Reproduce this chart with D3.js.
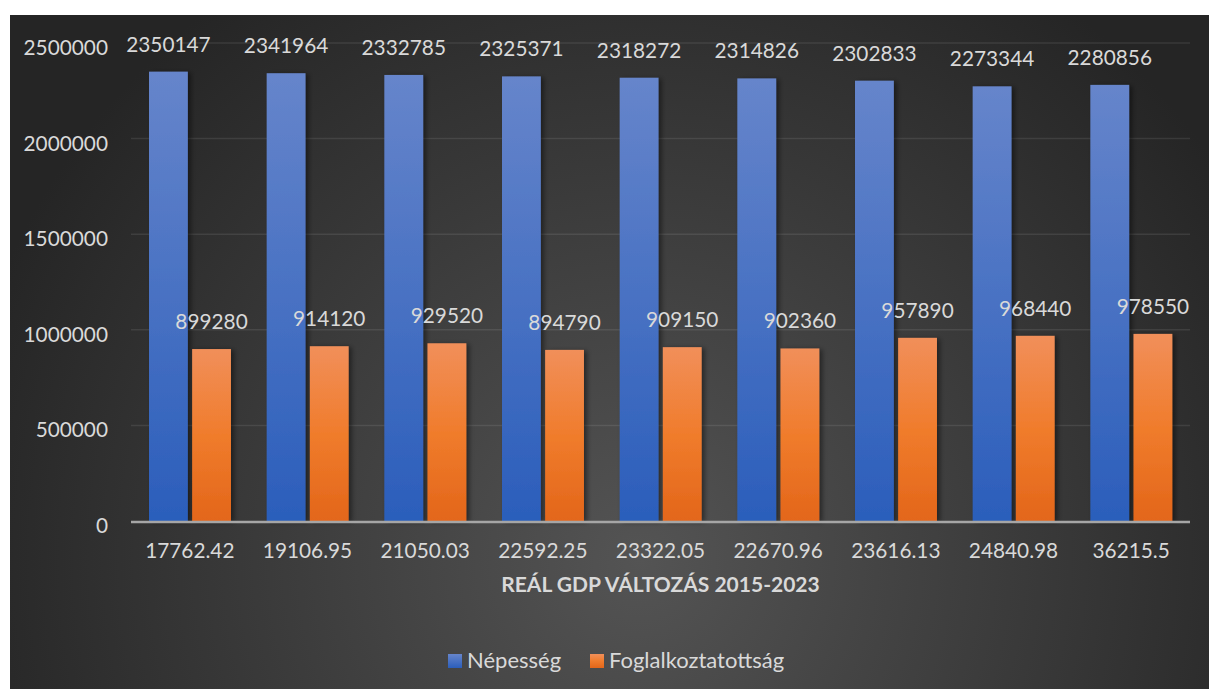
<!DOCTYPE html>
<html><head><meta charset="utf-8">
<script src="https://cdn.jsdelivr.net/npm/d3@7"></script>
<style>
html,body{margin:0;padding:0;background:#fff;}
svg{display:block;font-family:Lato,"Open Sans",sans-serif;}
</style></head>
<body><div id="chart"></div>
<script>
const categories = ["17762.42","19106.95","21050.03","22592.25","23322.05","22670.96","23616.13","24840.98","36215.5"];
const nepesseg = [2350147,2341964,2332785,2325371,2318272,2314826,2302833,2273344,2280856];
const foglalkoztatottsag = [899280,914120,929520,894790,909150,902360,957890,968440,978550];
const seriesNames = ["Népesség","Foglalkoztatottság"];
const yTicks = [0,500000,1000000,1500000,2000000,2500000];
const axisTitle = "REÁL GDP VÁLTOZÁS 2015-2023";

const W = 1209, H = 689;
const svg = d3.select("#chart").append("svg").attr("width", W).attr("height", H);
const defs = svg.append("defs");

const bg = defs.append("radialGradient").attr("id","bg")
  .attr("gradientUnits","userSpaceOnUse").attr("cx",640).attr("cy",560).attr("r",700)
  .attr("fx",640).attr("fy",560);
bg.append("stop").attr("offset","0").attr("stop-color","#545454");
bg.append("stop").attr("offset","0.55").attr("stop-color","#3a3a3a");
bg.append("stop").attr("offset","1").attr("stop-color","#252525");

const gBlue = defs.append("linearGradient").attr("id","gBlue").attr("x1",0).attr("y1",0).attr("x2",0).attr("y2",1);
gBlue.append("stop").attr("offset","0").attr("stop-color","#6685cb");
gBlue.append("stop").attr("offset","1").attr("stop-color","#2b5ebb");
const gOrange = defs.append("linearGradient").attr("id","gOrange").attr("x1",0).attr("y1",0).attr("x2",0).attr("y2",1);
gOrange.append("stop").attr("offset","0").attr("stop-color","#f18f5a");
gOrange.append("stop").attr("offset","0.5").attr("stop-color","#f07c2c");
gOrange.append("stop").attr("offset","1").attr("stop-color","#e3661a");

const shadow = defs.append("filter").attr("id","shadow").attr("x","-30%").attr("y","-10%").attr("width","180%").attr("height","120%");
shadow.append("feDropShadow").attr("dx",3).attr("dy",1).attr("stdDeviation",2.5).attr("flood-color","#000").attr("flood-opacity",0.45);

svg.append("rect").attr("x",10).attr("y",15).attr("width",W-10).attr("height",H-15).attr("fill","url(#bg)");

const x0 = d3.scaleBand().domain(categories).range([131,1190]);
const x1 = d3.scaleBand().domain(seriesNames).range([18, x0.bandwidth()-17.7]).paddingInner(0.1);
const y = d3.scaleLinear().domain([0,2500000]).range([521,43]);

// gridlines
svg.append("g").selectAll("line").data(yTicks.filter(d=>d>0)).join("line")
  .attr("x1",131).attr("x2",1190).attr("y1",d=>y(d)).attr("y2",d=>y(d))
  .attr("stroke","#ffffff").attr("stroke-opacity",0.09).attr("stroke-width",1.5);

// y labels
svg.append("g").selectAll("text").data(yTicks).join("text")
  .attr("x",108).attr("y",d=>y(d)+12).attr("text-anchor","end")
  .attr("font-size",20.8).attr("fill","#d9d9d9").text(d=>d);

const data = categories.map((c,i)=>({c, vals:[
  {s:seriesNames[0], v:nepesseg[i], fill:"url(#gBlue)"},
  {s:seriesNames[1], v:foglalkoztatottsag[i], fill:"url(#gOrange)"}]}));

const groups = svg.append("g").selectAll("g").data(data).join("g")
  .attr("transform",d=>`translate(${x0(d.c)},0)`);
groups.selectAll("rect").data(d=>d.vals).join("rect")
  .attr("x",d=>x1(d.s)).attr("width",x1.bandwidth())
  .attr("y",d=>y(d.v)).attr("height",d=>y(0)-y(d.v))
  .attr("fill",d=>d.fill).attr("filter","url(#shadow)");
groups.selectAll("text").data(d=>d.vals).join("text")
  .attr("x",d=>x1(d.s)+x1.bandwidth()/2).attr("y",d=>y(d.v)-20)
  .attr("text-anchor","middle").attr("font-size",20.8).attr("fill","#d9d9d9").text(d=>d.v);

// baseline
svg.append("line").attr("x1",131).attr("x2",1190).attr("y1",y(0)+1).attr("y2",y(0)+1)
  .attr("stroke","#a6a6a6").attr("stroke-width",2.5);

// x labels
svg.append("g").selectAll("text").data(categories).join("text")
  .attr("x",d=>x0(d)+x0.bandwidth()/2).attr("y",558).attr("text-anchor","middle")
  .attr("font-size",20.8).attr("fill","#d9d9d9").text(d=>d);

svg.append("text").attr("x",(131+1190)/2).attr("y",592).attr("text-anchor","middle")
  .attr("font-size",21).attr("font-weight","bold").attr("fill","#d9d9d9").text(axisTitle);

// legend
const leg = svg.append("g");
const legX = [448, 590];
seriesNames.forEach((s,i)=>{
  leg.append("rect").attr("x",legX[i]).attr("y",654).attr("width",14).attr("height",14)
    .attr("fill",i===0?"url(#gBlue)":"url(#gOrange)");
  leg.append("text").attr("x",legX[i]+19).attr("y",668).attr("font-size",22)
    .attr("fill","#d9d9d9").text(s);
});
</script></body></html>
